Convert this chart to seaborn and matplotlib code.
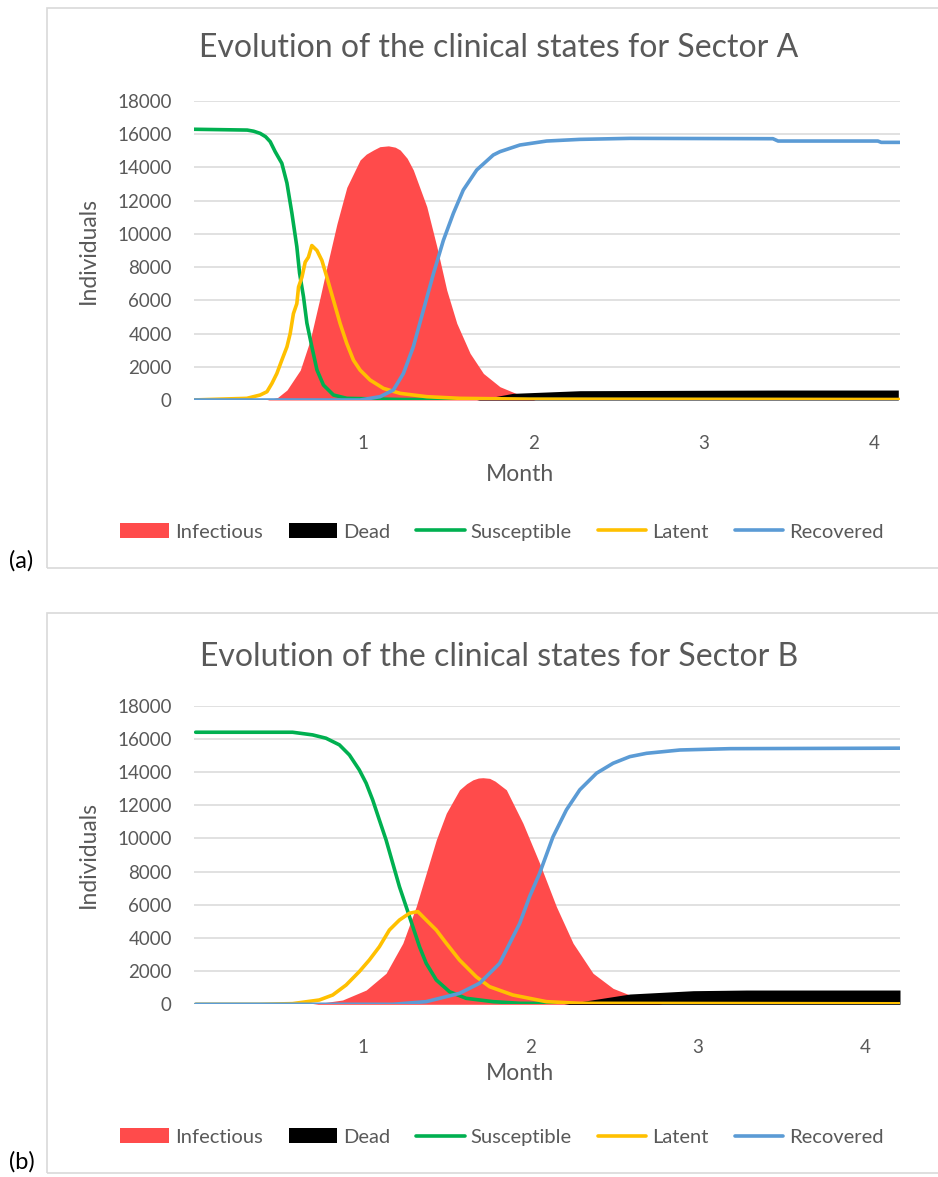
import matplotlib
matplotlib.use("Agg")
import matplotlib.pyplot as plt
import seaborn as sns
import pandas as pd
from matplotlib.patches import Patch, Rectangle
from matplotlib.lines import Line2D

# ---------------- Sector A data (x in months) ----------------
a_sus_x = [0.0, 0.322, 0.36, 0.398, 0.43, 0.457, 0.486, 0.525, 0.555, 0.584, 0.613, 0.629, 0.652, 0.672, 0.701, 0.731, 0.769, 0.828, 0.906, 1.22, 4.15]
a_sus_y = [16300, 16250, 16180, 16050, 15850, 15550, 14950, 14250, 13060, 11250, 9230, 7640, 6220, 4630, 3210, 1810, 900, 300, 100, 30, 10]

a_lat_x = [0.0, 0.32, 0.398, 0.438, 0.467, 0.496, 0.525, 0.555, 0.574, 0.593, 0.613, 0.623, 0.643, 0.662, 0.681, 0.701, 0.731, 0.760, 0.789, 0.828, 0.867, 0.906, 0.945, 0.984, 1.043, 1.121, 1.219, 1.375, 1.570, 1.98, 4.15]
a_lat_y = [0, 100, 300, 500, 1000, 1600, 2400, 3200, 4000, 5200, 5800, 6800, 7400, 8300, 8600, 9300, 9000, 8400, 7400, 6000, 4600, 3400, 2400, 1800, 1200, 700, 400, 200, 100, 50, 30]

a_inf_x = [0.0, 0.438, 0.50, 0.555, 0.633, 0.691, 0.750, 0.789, 0.848, 0.906, 0.984, 1.02, 1.062, 1.10, 1.150, 1.19, 1.219, 1.26, 1.296, 1.375, 1.434, 1.492, 1.551, 1.629, 1.707, 1.804, 1.921, 2.01, 4.15]
a_inf_y = [0, 0, 150, 600, 1800, 3600, 6200, 8000, 10600, 12800, 14450, 14800, 15050, 15250, 15300, 15220, 15050, 14550, 13850, 11640, 9230, 6620, 4620, 2810, 1600, 800, 300, 0, 0]

a_rec_x = [0.0, 0.984, 1.101, 1.179, 1.238, 1.296, 1.355, 1.414, 1.472, 1.531, 1.589, 1.668, 1.765, 1.804, 1.921, 2.078, 2.273, 2.566, 3.405, 3.435, 4.020, 4.040, 4.148]
a_rec_y = [0, 0, 200, 600, 1600, 3200, 5400, 7600, 9600, 11240, 12640, 13850, 14750, 14950, 15350, 15590, 15690, 15750, 15730, 15590, 15590, 15510, 15510]

a_dead_x = [0.0, 1.667, 1.88, 2.273, 3.44, 4.14]
a_dead_y = [0, 0, 400, 560, 600, 600]

# ---------------- Sector B data (x in months) ----------------
b_sus_x = [0.0, 0.579, 0.699, 0.779, 0.859, 0.919, 0.978, 1.019, 1.058, 1.098, 1.138, 1.178, 1.218, 1.258, 1.298, 1.338, 1.378, 1.438, 1.517, 1.617, 1.777, 1.937, 2.42, 4.21]
b_sus_y = [16400, 16400, 16240, 16040, 15640, 15030, 14130, 13330, 12320, 11110, 9910, 8500, 7090, 5890, 4680, 3470, 2470, 1470, 760, 360, 160, 60, 20, 10]

b_lat_x = [0.0, 0.380, 0.579, 0.739, 0.819, 0.899, 0.978, 1.038, 1.098, 1.158, 1.218, 1.278, 1.328, 1.378, 1.438, 1.498, 1.577, 1.677, 1.757, 1.896, 2.096, 2.296, 4.21]
b_lat_y = [0, 0, 40, 260, 560, 1160, 1970, 2670, 3470, 4480, 5080, 5490, 5590, 5080, 4480, 3680, 2670, 1660, 1060, 560, 160, 60, 30]

b_inf_x = [0.0, 0.699, 0.878, 1.019, 1.138, 1.238, 1.318, 1.378, 1.438, 1.498, 1.577, 1.62, 1.657, 1.69, 1.717, 1.757, 1.79, 1.857, 1.956, 2.056, 2.156, 2.256, 2.375, 2.495, 2.595, 2.695, 2.79, 4.21]
b_inf_y = [0, 0, 260, 860, 1870, 3680, 5890, 7900, 9910, 11520, 12930, 13300, 13530, 13640, 13660, 13620, 13450, 12930, 10920, 8500, 5890, 3680, 1870, 960, 560, 200, 0, 0]

b_rec_x = [0.0, 1.178, 1.378, 1.577, 1.697, 1.817, 1.937, 1.996, 2.056, 2.136, 2.216, 2.296, 2.396, 2.495, 2.595, 2.695, 2.895, 3.194, 4.21]
b_rec_y = [0, 0, 160, 660, 1270, 2470, 4880, 6490, 7900, 10100, 11720, 12930, 13930, 14530, 14930, 15130, 15330, 15410, 15440]

b_dead_x = [0.0, 2.20, 2.595, 2.974, 3.294, 4.21]
b_dead_y = [0, 0, 620, 820, 860, 860]

month_ticks = [1, 2, 3, 4]
y_ticks = list(range(0, 18001, 2000))

C_INF = "#FF4B4B"
C_DEAD = "#000000"
C_SUS = "#00B050"
C_LAT = "#FFC000"
C_REC = "#5B9BD5"
TXT = "#595959"
GRID = "#D9D9D9"

sns.set_theme(style="white")
plt.rcParams["font.family"] = ["Lato", "DejaVu Sans"]

W, H = 938, 1177
fig = plt.figure(figsize=(W / 100, H / 100), dpi=100)

def fx(px):
    return px / W

def fy(py):
    return 1 - py / H

# Bordered boxes
for top, bot in [(8, 568), (613, 1173)]:
    fig.patches.append(Rectangle((fx(47), fy(bot)), 1.2, (bot - top) / H,
                                 transform=fig.transFigure, fill=False,
                                 edgecolor=GRID, linewidth=1.2, zorder=0))

panels = [
    dict(top=101, bot=400, left=194, right=900, xlim=(0.01, 4.15),
         title="Evolution of the clinical states for Sector A", title_y=48,
         leg_y=532, tag="(a)", tag_y=561, mlab_y=475,
         sus=(a_sus_x, a_sus_y), lat=(a_lat_x, a_lat_y), inf=(a_inf_x, a_inf_y),
         rec=(a_rec_x, a_rec_y), dead=(a_dead_x, a_dead_y)),
    dict(top=705.7, bot=1004.3, left=194, right=900, xlim=(-0.01, 4.21),
         title="Evolution of the clinical states for Sector B", title_y=657,
         leg_y=1137, tag="(b)", tag_y=1162, mlab_y=1073,
         sus=(b_sus_x, b_sus_y), lat=(b_lat_x, b_lat_y), inf=(b_inf_x, b_inf_y),
         rec=(b_rec_x, b_rec_y), dead=(b_dead_x, b_dead_y)),
]

for p in panels:
    ax_h = p["bot"] - p["top"]
    ax_w = p["right"] - p["left"]
    ax = fig.add_axes([fx(p["left"]), fy(p["bot"]), fx(ax_w), ax_h / H])
    ax.fill_between(p["inf"][0], p["inf"][1], 0, color=C_INF, linewidth=0, zorder=2)
    ax.fill_between(p["dead"][0], p["dead"][1], 0, color=C_DEAD, linewidth=0, zorder=2.5)
    for key, col in [("sus", C_SUS), ("lat", C_LAT), ("rec", C_REC)]:
        df = pd.DataFrame({"x": p[key][0], "y": p[key][1]})
        sns.lineplot(data=df, x="x", y="y", ax=ax, color=col, linewidth=2.6,
                     estimator=None, sort=False, zorder=3)
    ax.set_xlim(*p["xlim"])
    ax.set_ylim(0, 18000)
    ax.set_yticks(y_ticks)
    ax.set_yticklabels([str(v) for v in y_ticks])
    ax.set_xticks(month_ticks)
    ax.set_xticklabels([str(v) for v in month_ticks])
    ax.grid(axis="y", color=GRID, linewidth=1.1, zorder=0)
    ax.grid(axis="x", visible=False)
    ax.set_axisbelow(True)
    for s in ax.spines.values():
        s.set_visible(False)
    ax.tick_params(axis="y", length=0, pad=16, labelsize=13.5, labelcolor=TXT)
    ax.tick_params(axis="x", length=0, pad=25, labelsize=13.5, labelcolor=TXT)
    ax.set_xlabel("Month", fontsize=16.5, color=TXT)
    ax.xaxis.set_label_coords((520 - p["left"]) / ax_w, (p["bot"] - p["mlab_y"]) / ax_h)
    ax.xaxis.label.set_verticalalignment("center")
    ax.set_ylabel("Individuals", fontsize=16.5, color=TXT)
    ax.yaxis.set_label_coords((88 - p["left"]) / ax_w, 0.5)
    ax.yaxis.label.set_verticalalignment("center")
    ax.set_facecolor("none")

    fig.text(fx(499), fy(p["title_y"]), p["title"], ha="center", va="center",
             fontsize=23, color=TXT)
    fig.text(fx(9), fy(p["tag_y"]), p["tag"], ha="left", va="center",
             fontsize=17, color="black")

    handles = [Patch(facecolor=C_INF, edgecolor="none", label="Infectious"),
               Patch(facecolor=C_DEAD, edgecolor="none", label="Dead"),
               Line2D([], [], color=C_SUS, linewidth=2.6, label="Susceptible"),
               Line2D([], [], color=C_LAT, linewidth=2.6, label="Latent"),
               Line2D([], [], color=C_REC, linewidth=2.6, label="Recovered")]
    leg = fig.legend(handles=handles, loc="center", bbox_to_anchor=(fx(502), fy(p["leg_y"])),
                     ncol=5, frameon=False, fontsize=14.5, handlelength=2.4,
                     handletextpad=0.3, columnspacing=1.3, borderaxespad=0)
    for t in leg.get_texts():
        t.set_color(TXT)

fig.savefig("out.png", dpi=100, facecolor="white")
